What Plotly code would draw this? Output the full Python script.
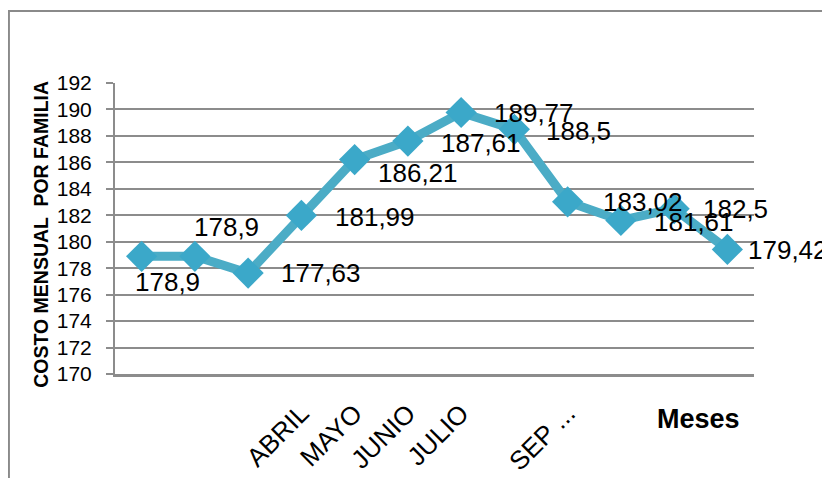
import plotly.graph_objects as go

# months of the year and monthly cost per family
months = [
    "ENERO", "FEBRERO", "MARZO", "ABRIL", "MAYO", "JUNIO",
    "JULIO", "AGOSTO", "SEPTIEMBRE", "OCTUBRE", "NOVIEMBRE", "DICIEMBRE",
]
costs = [178.9, 178.9, 177.63, 181.99, 186.21, 187.61,
         189.77, 188.5, 183.02, 181.61, 182.5, 179.42]

# only some category labels survive on the axis
tick_labels = ["", "", "", "ABRIL", "MAYO", "JUNIO",
               "JULIO", "", "SEP ...", "", "", ""]

y_ticks = list(range(170, 193, 2))

# label placement, pixel offsets from each point (style only)
label_dx = [-8, -2, 32, 33, 22, 32, 32, 31, 34, 32, 28, 20]
label_dy = [-26, 29, 0, -2, -13, -2, 0, -2, 0, -2, 0, -1]

FONT = "Liberation Sans, Arial, sans-serif"
TEAL = "#4BACC6"
GRID = "#8C8C8C"

fig = go.Figure()

fig.add_trace(
    go.Scatter(
        x=months,
        y=costs,
        mode="lines+markers",
        line=dict(color=TEAL, width=9),
        marker=dict(
            symbol="diamond",
            size=24,
            color="#3BA8C9",
            line=dict(width=0),
        ),
        showlegend=False,
        hoverinfo="skip",
    )
)

for m, v, dx, dy in zip(months, costs, label_dx, label_dy):
    fig.add_annotation(
        x=m,
        y=v,
        text=f"{v:g}".replace(".", ","),
        showarrow=False,
        xanchor="left",
        yanchor="middle",
        xshift=dx,
        yshift=dy,
        borderpad=0,
        font=dict(family=FONT, size=26, color="black"),
    )

# axis titles placed like the original chart
fig.add_annotation(
    x=0.845,
    y=-0.155,
    xref="paper",
    yref="paper",
    text="<b>Meses</b>",
    showarrow=False,
    xanchor="left",
    yanchor="middle",
    font=dict(family=FONT, size=27, color="black"),
)
fig.add_annotation(
    x=-0.117,
    y=0.479,
    xref="paper",
    yref="paper",
    text="<b>COSTO MENSUAL  POR FAMILIA</b>",
    textangle=-90,
    showarrow=False,
    xanchor="center",
    yanchor="middle",
    font=dict(family=FONT, size=19.5, color="black"),
)

# outer chart frame (only top and left edges are visible)
fig.add_shape(
    type="rect",
    xref="paper",
    yref="paper",
    x0=-0.166,
    x1=1.3,
    y0=-0.5,
    y1=1.247,
    line=dict(color="#8A8A8A", width=2),
    layer="below",
)

fig.update_layout(
    width=830,
    height=478,
    margin=dict(l=107, r=84, t=75, b=112),
    plot_bgcolor="white",
    paper_bgcolor="white",
    font=dict(family=FONT, color="black"),
    xaxis=dict(
        tickmode="array",
        tickvals=months,
        ticktext=tick_labels,
        tickangle=-45,
        tickfont=dict(size=26),
        ticks="",
        ticklabelstandoff=11,
        showgrid=False,
        showline=True,
        linecolor=GRID,
        linewidth=2.5,
        range=[-0.5, 11.5],
        zeroline=False,
        automargin=False,
    ),
    yaxis=dict(
        range=[170, 192],
        tickvals=y_ticks,
        tickfont=dict(size=21),
        ticks="outside",
        ticklen=7,
        tickwidth=2,
        tickcolor=GRID,
        ticklabelstandoff=10,
        showgrid=True,
        gridcolor=GRID,
        gridwidth=2,
        showline=True,
        linecolor=GRID,
        linewidth=2,
        zeroline=False,
        automargin=False,
    ),
)

fig.write_html("out.html")
